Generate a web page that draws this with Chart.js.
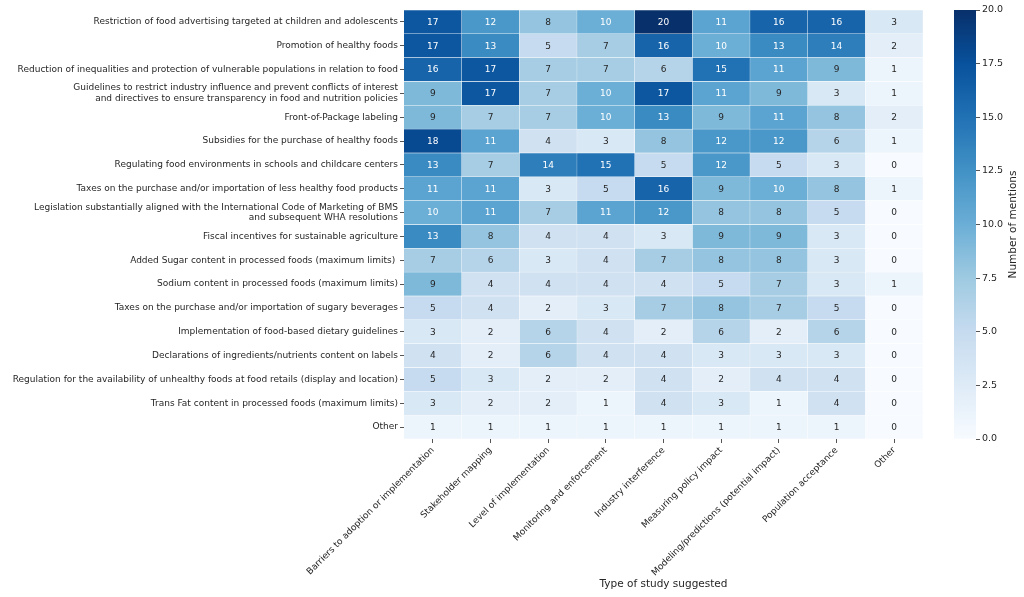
<!DOCTYPE html>
<html>
<head>
<meta charset="utf-8">
<script src="https://cdn.jsdelivr.net/npm/chart.js@4.4.1/dist/chart.umd.min.js"></script>
<style>
  html, body { margin: 0; padding: 0; background: #fff; }
  #wrap { position: relative; width: 1024px; height: 597px; }
  #heat { position: absolute; left: 0; top: 0; }
  #cbar { position: absolute; left: 930px; top: 0; }
</style>
</head>
<body>
<div id="wrap">
  <canvas id="heat" width="1024" height="597"></canvas>
  <canvas id="cbar" width="94" height="597"></canvas>
</div>
<script>
// rows (policies), top to bottom
const policies = [
  'Restriction of food advertising targeted at children and adolescents',
  'Promotion of healthy foods',
  'Reduction of inequalities and protection of vulnerable populations in relation to food',
  ['Guidelines to restrict industry influence and prevent conflicts of interest',
   'and directives to ensure transparency in food and nutrition policies'],
  'Front-of-Package labeling',
  'Subsidies for the purchase of healthy foods',
  'Regulating food environments in schools and childcare centers',
  'Taxes on the purchase and/or importation of less healthy food products',
  ['Legislation substantially aligned with the International Code of Marketing of BMS',
   'and subsequent WHA resolutions'],
  'Fiscal incentives for sustainable agriculture',
  'Added Sugar content in processed foods (maximum limits) ',
  'Sodium content in processed foods (maximum limits)',
  'Taxes on the purchase and/or importation of sugary beverages',
  'Implementation of food-based dietary guidelines',
  'Declarations of ingredients/nutrients content on labels',
  'Regulation for the availability of unhealthy foods at food retails (display and location)',
  'Trans Fat content in processed foods (maximum limits)',
  'Other'
];

// columns (type of study suggested)
const studyTypes = [
  'Barriers to adoption or implementation',
  'Stakeholder mapping',
  'Level of implementation',
  'Monitoring and enforcement',
  'Industry interference',
  'Measuring policy impact',
  'Modeling/predictions (potential impact)',
  'Population acceptance',
  'Other'
];

// number of mentions per column, in policy order
const barriers    = [17, 17, 16, 9, 9, 18, 13, 11, 10, 13, 7, 9, 5, 3, 4, 5, 3, 1];
const stakeholder = [12, 13, 17, 17, 7, 11, 7, 11, 11, 8, 6, 4, 4, 2, 2, 3, 2, 1];
const levelImpl   = [8, 5, 7, 7, 7, 4, 14, 3, 7, 4, 3, 4, 2, 6, 6, 2, 2, 1];
const monitoring  = [10, 7, 7, 10, 10, 3, 15, 5, 11, 4, 4, 4, 3, 4, 4, 2, 1, 1];
const industry    = [20, 16, 6, 17, 13, 8, 5, 16, 12, 3, 7, 4, 7, 2, 4, 4, 4, 1];
const measuring   = [11, 10, 15, 11, 9, 12, 12, 9, 8, 9, 8, 5, 8, 6, 3, 2, 3, 1];
const modeling    = [16, 13, 11, 9, 11, 12, 5, 10, 8, 9, 8, 7, 7, 2, 3, 4, 1, 1];
const population  = [16, 14, 9, 3, 8, 6, 3, 8, 5, 3, 3, 3, 5, 6, 3, 4, 4, 1];
const otherStudy  = [3, 2, 1, 1, 2, 1, 0, 1, 0, 0, 0, 1, 0, 0, 0, 0, 0, 0];

const columns = [barriers, stakeholder, levelImpl, monitoring, industry, measuring, modeling, population, otherStudy];

const colorMin = 0;
const colorMax = 20;
const colorbarTicks = [0, 2.5, 5, 7.5, 10, 12.5, 15, 17.5, 20];

// matplotlib "Blues"
const BLUES = ['#f7fbff', '#deebf7', '#c6dbef', '#9ecae1', '#6baed6', '#4292c6', '#2171b5', '#08519c', '#08306b'];
const FONT = 'DejaVu Sans';
const TEXT = '#262626';

function hexRgb(h) {
  return [parseInt(h.slice(1, 3), 16), parseInt(h.slice(3, 5), 16), parseInt(h.slice(5, 7), 16)];
}

function blues(v) {
  let t = (v - colorMin) / (colorMax - colorMin);
  t = Math.max(0, Math.min(1, t)) * (BLUES.length - 1);
  const i = Math.min(Math.floor(t), BLUES.length - 2);
  const f = t - i;
  const a = hexRgb(BLUES[i]), b = hexRgb(BLUES[i + 1]);
  const c = a.map((x, k) => Math.round(x + (b[k] - x) * f));
  return `rgb(${c[0]},${c[1]},${c[2]})`;
}

// write the count in the middle of each cell
const cellValues = {
  id: 'cellValues',
  afterDatasetsDraw(chart) {
    const ctx = chart.ctx;
    ctx.save();
    ctx.font = `9px "${FONT}"`;
    ctx.textAlign = 'center';
    ctx.textBaseline = 'middle';
    chart.data.datasets.forEach((ds, i) => {
      chart.getDatasetMeta(i).data.forEach((el, j) => {
        const v = ds.values[j];
        ctx.fillStyle = v >= 10 ? '#ffffff' : TEXT;
        ctx.fillText(String(v), (el.x + el.base) / 2, el.y + 0.5);
      });
    });
    ctx.restore();
  }
};

new Chart(document.getElementById('heat'), {
  type: 'bar',
  data: {
    labels: policies,
    datasets: columns.map((vals, i) => ({
      label: studyTypes[i],
      data: vals.map(() => 1),
      values: vals,
      backgroundColor: vals.map(blues),
      borderColor: '#ffffff',
      borderWidth: 0.5,
      barPercentage: 1,
      categoryPercentage: 1
    }))
  },
  options: {
    indexAxis: 'y',
    responsive: false,
    animation: false,
    layout: { padding: { left: 0, right: 101, top: 10, bottom: 0 } },
    plugins: { legend: { display: false }, tooltip: { enabled: false } },
    scales: {
      x: {
        type: 'linear',
        stacked: true,
        min: 0,
        max: columns.length,
        afterBuildTicks: s => { s.ticks = studyTypes.map((_, i) => ({ value: i + 0.5 })); },
        afterFit: s => { s.height = 158; },
        ticks: {
          autoSkip: false,
          minRotation: 45,
          maxRotation: 45,
          padding: 2,
          color: TEXT,
          font: { family: FONT, size: 9 },
          callback: (v, i) => studyTypes[i]
        },
        grid: { drawOnChartArea: false, tickLength: 4, color: '#555' },
        border: { display: false },
        title: {
          display: true,
          text: 'Type of study suggested',
          color: TEXT,
          font: { family: FONT, size: 10.5 },
          padding: { top: 0, bottom: 6 }
        }
      },
      y: {
        stacked: true,
        afterFit: s => { s.width = 404; },
        ticks: { autoSkip: false, padding: 2, color: TEXT, font: { family: FONT, size: 9 } },
        grid: { offset: false, drawOnChartArea: false, tickLength: 4, color: '#555' },
        border: { display: false }
      }
    }
  },
  plugins: [cellValues]
});

// colorbar title reads bottom to top, left of nothing, right of the ticks
const colorbarTitle = {
  id: 'colorbarTitle',
  afterDraw(chart) {
    const a = chart.chartArea;
    const ctx = chart.ctx;
    ctx.save();
    ctx.translate(83, (a.top + a.bottom) / 2);
    ctx.rotate(-Math.PI / 2);
    ctx.font = `10.5px "${FONT}"`;
    ctx.fillStyle = TEXT;
    ctx.textAlign = 'center';
    ctx.textBaseline = 'middle';
    ctx.fillText('Number of mentions', 0, 0);
    ctx.restore();
  }
};

new Chart(document.getElementById('cbar'), {
  type: 'bar',
  data: {
    labels: [''],
    datasets: [{
      data: [colorMax],
      backgroundColor: c => {
        const a = c.chart.chartArea;
        if (!a) return BLUES[4];
        const g = c.chart.ctx.createLinearGradient(0, a.bottom, 0, a.top);
        BLUES.forEach((col, i) => g.addColorStop(i / (BLUES.length - 1), col));
        return g;
      },
      borderWidth: 0,
      barPercentage: 1,
      categoryPercentage: 1
    }]
  },
  options: {
    responsive: false,
    animation: false,
    layout: { padding: { left: 24, right: 0, top: 10, bottom: 158 } },
    plugins: { legend: { display: false }, tooltip: { enabled: false } },
    scales: {
      x: { display: false },
      y: {
        position: 'right',
        min: colorMin,
        max: colorMax,
        afterBuildTicks: s => { s.ticks = colorbarTicks.map(v => ({ value: v })); },
        afterFit: s => { s.width = 48; },
        ticks: {
          padding: 2,
          color: TEXT,
          font: { family: FONT, size: 9.5 },
          callback: v => v.toFixed(1)
        },
        grid: { drawOnChartArea: false, tickLength: 4, color: '#555' },
        border: { display: false }
      }
    }
  },
  plugins: [colorbarTitle]
});
</script>
</body>
</html>
